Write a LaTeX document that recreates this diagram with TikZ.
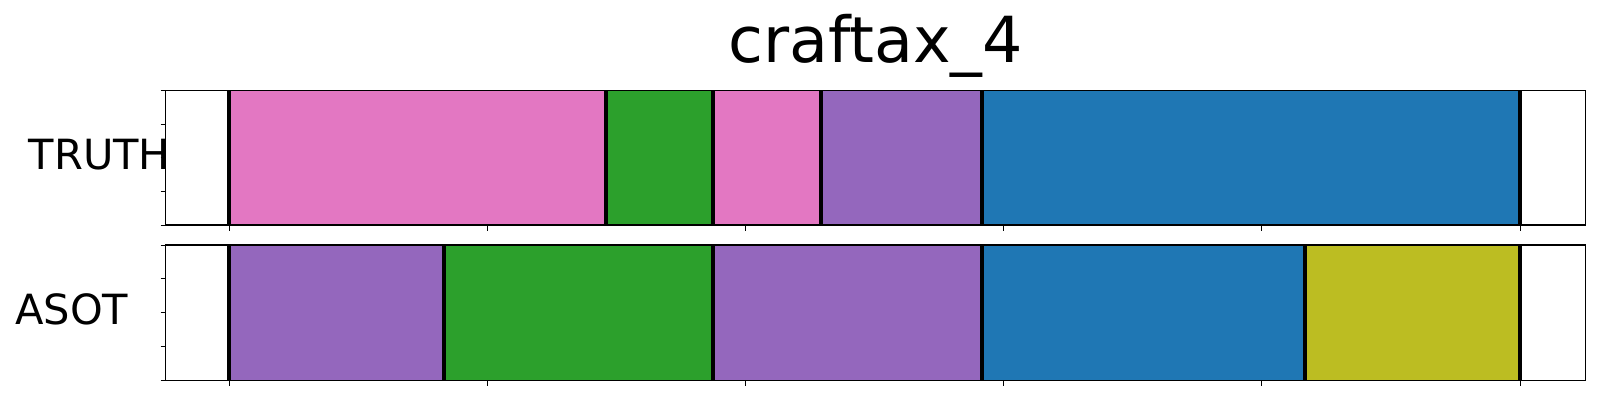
\documentclass[tikz,border=0pt]{standalone}
\usepackage{fontspec}
\setmainfont{DejaVu Sans}
\definecolor{tpink}{HTML}{E377C2}
\definecolor{tgreen}{HTML}{2CA02C}
\definecolor{tpurple}{HTML}{9467BD}
\definecolor{tblue}{HTML}{1F77B4}
\definecolor{tolive}{HTML}{BCBD22}
\begin{document}
\begin{tikzpicture}[x=1pt,y=-1pt,
  bnd/.style={line width=4pt, black},
  axframe/.style={line width=1.3pt, black},
  tickmark/.style={line width=1pt, black},
  lbl/.style={font=\fontsize{41.6}{50}\selectfont, inner sep=0pt, anchor=base west},
  ttl/.style={font=\fontsize{63.5}{76}\selectfont, inner sep=0pt, anchor=base}]
\useasboundingbox (0,0) rectangle (1600,400);
\fill[white] (0,0) rectangle (1600,400);
% title
\node[ttl] (title) at (875.7,62.3) {craftax\_4};
% TRUTH segments
\foreach \a/\b/\c in {229.2/606.3/tpink, 606.3/713/tgreen, 713/821/tpink, 821/982/tpurple, 982/1520/tblue}
  \fill[\c] (\a,90.3) rectangle (\b,225);
\foreach \x in {229.2,606.3,713,821,982,1520}
  \draw[bnd] (\x,90.3) -- (\x,225);
% ASOT segments
\foreach \a/\b/\c in {229.2/444/tpurple, 444/713/tgreen, 713/982/tpurple, 982/1305/tblue, 1305/1520/tolive}
  \fill[\c] (\a,245) rectangle (\b,380.3);
\foreach \x in {229.2,444,713,982,1305,1520}
  \draw[bnd] (\x,245) -- (\x,380.3);
% frames
\draw[axframe] (165.7,90.3) rectangle (1585.7,225);
\draw[axframe] (165.7,245) rectangle (1585.7,380.3);
% ticks
\foreach \y in {90.3,124,157.7,191.3,225}
  \draw[tickmark] (160.7,\y) -- (165.7,\y);
\foreach \y in {245,278.8,312.7,346.5,380.3}
  \draw[tickmark] (160.7,\y) -- (165.7,\y);
\foreach \x in {229.2,487.4,745.5,1003.7,1261.8,1520}{
  \draw[tickmark] (\x,225) -- (\x,230.5);
  \draw[tickmark] (\x,380.3) -- (\x,385.8);
}
% labels
\node[lbl] (truth) at (28.5,169.3) {TRUTH};
\node[lbl] (asot) at (15,324) {ASOT};
\end{tikzpicture}
\end{document}
